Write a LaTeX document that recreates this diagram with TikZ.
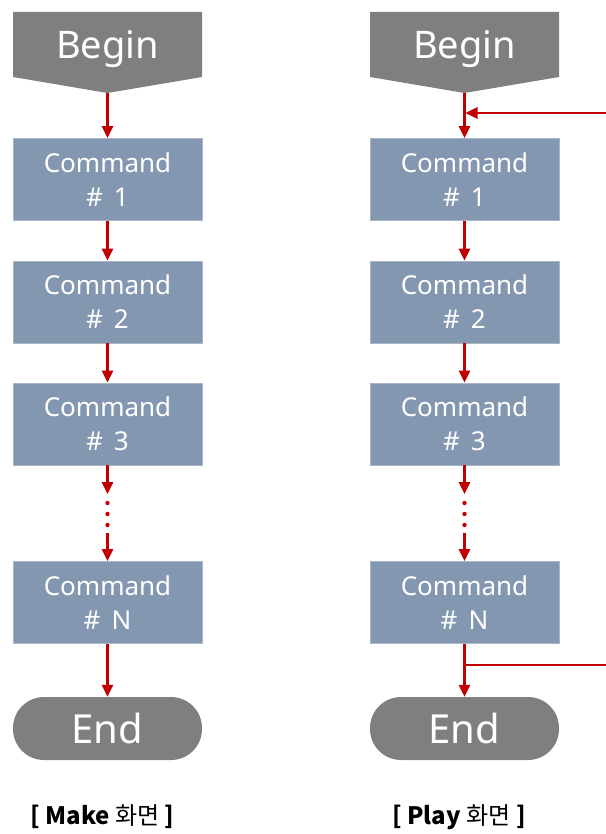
\documentclass[tikz,border=0pt]{standalone}
\usepackage{fontspec}
\setmainfont{Noto Sans}
\newfontfamily\krfont{Noto Sans CJK KR}
\usetikzlibrary{arrows.meta}
\definecolor{beg}{HTML}{7F7F7F}
\definecolor{cmd}{HTML}{8497B0}
\definecolor{arrred}{HTML}{C00000}
\tikzset{
  cmdbox/.style={rectangle, fill=cmd, draw=cmd!70!white, line width=0.8pt, minimum width=189pt, minimum height=82pt, inner sep=0pt, text=white, align=center, font=\fontsize{26}{34}\selectfont},
  endbox/.style={rectangle, rounded corners=31pt, fill=beg, minimum width=189pt, minimum height=63pt, inner sep=0pt, text=white, font=\fontsize{40}{44}\selectfont},
  begtext/.style={text=white, inner sep=0pt, font=\fontsize{38}{42}\selectfont},
  arr/.style={draw=arrred, line width=2.6pt, -{Triangle[length=12pt,width=11pt]}},
  plainline/.style={draw=arrred, line width=2.6pt},
  capt/.style={font=\krfont\bfseries\fontsize{24}{28}\selectfont, inner sep=0pt}
}
\begin{document}
\begin{tikzpicture}[x=1pt,y=-1pt]
\useasboundingbox (0,0) rectangle (605,834);
\foreach \cx/\p in {107.5/L,464.5/R}{
  \fill[beg] (\cx-94.5,12) -- (\cx+94.5,12) -- (\cx+94.5,77) -- (\cx,93) -- (\cx-94.5,77) -- cycle;
  \node[begtext] (begin\p) at (\cx,49) {Begin};
  \coordinate (tip\p) at (\cx,93);
  \node[cmdbox] (c1\p) at (\cx,179.5) {\raisebox{-3pt}{\parbox{180pt}{\centering Command\\\#\, 1}}};
  \node[cmdbox] (c2\p) at (\cx,302) {\raisebox{-3pt}{\parbox{180pt}{\centering Command\\\#\, 2}}};
  \node[cmdbox] (c3\p) at (\cx,424) {\raisebox{-3pt}{\parbox{180pt}{\centering Command\\\#\, 3}}};
  \node[cmdbox] (cN\p) at (\cx,602.5) {\raisebox{-3pt}{\parbox{180pt}{\centering Command\\\#\, N}}};
  \node[endbox] (end\p) at (\cx,728.5) {End};
  \coordinate (da\p) at (\cx,494);
  \coordinate (db\p) at (\cx,533);
  \foreach \yy in {503,514,525}{\fill[arrred] (\cx,\yy) circle (2.2pt);}
  \draw[arr] (tip\p) -- (c1\p);
  \draw[arr] (c1\p) -- (c2\p);
  \draw[arr] (c2\p) -- (c3\p);
  \draw[arr] (c3\p) -- (da\p);
  \draw[arr] (db\p) -- (cN\p);
  \draw[arr] (cN\p) -- (end\p);
}
\coordinate (fbin) at (606,113);
\coordinate (fbj) at (465.5,113);
\draw[arr] (fbin) -- (fbj);
\coordinate (fbout) at (464.5,665);
\coordinate (fbend) at (606,665);
\draw[plainline] (fbout) -- (fbend);
\node[capt] (captL) at (102.5,817) {[ Make {\mdseries 화면} ]};
\node[capt] (captR) at (459,817) {[ Play {\mdseries 화면} ]};
\end{tikzpicture}
\end{document}
